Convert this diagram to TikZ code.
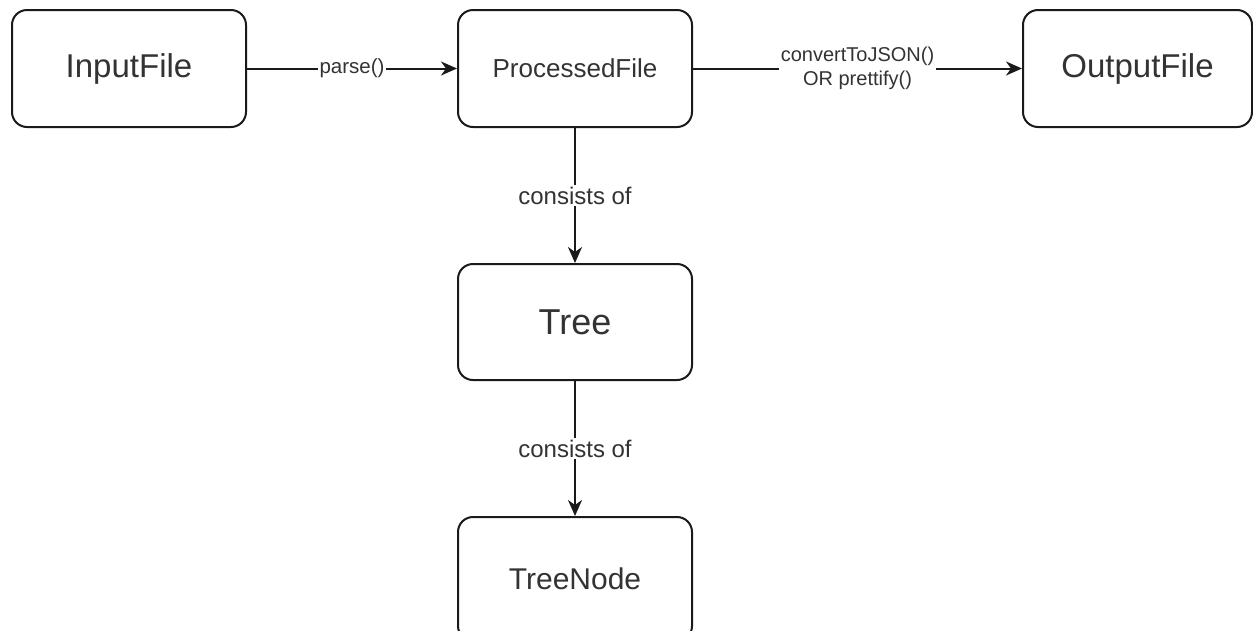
\documentclass[tikz,border=0pt]{standalone}
\usepackage{fontspec}
\setmainfont{Liberation Sans}
\usetikzlibrary{arrows.meta}
\definecolor{txt}{HTML}{333333}
\definecolor{ln}{HTML}{1A1A1A}
\begin{document}
\begin{tikzpicture}[x=1pt,y=1pt,
  box/.style={draw=ln, line width=2pt, rounded corners=15pt, fill=white,
    minimum width=234pt, minimum height=117pt, inner sep=0pt, text=txt},
  conn/.style={draw=ln, line width=2pt, -{Stealth[length=16pt,width=14pt,inset=5pt]}},
  lbl/.style={fill=white, text=txt, inner sep=2pt, align=center}
]
\useasboundingbox (0,0) rectangle (1253,-630);
\node[box, font=\fontsize{33}{40}\selectfont] (in) at (129,-68.5) {InputFile};
\node[box, font=\fontsize{26}{31}\selectfont] (pf) at (575,-68.5) {ProcessedFile};
\node[box, minimum width=229pt, font=\fontsize{33}{40}\selectfont] (out) at (1137.5,-68.5) {OutputFile};
\node[box, minimum height=116pt, font=\fontsize{36}{43}\selectfont] (tree) at (575,-322) {Tree};
\node[box, minimum height=124pt, font=\fontsize{30}{36}\selectfont] (tn) at (575,-579) {TreeNode};

\draw[conn] (in) -- node[lbl, font=\fontsize{20.5}{24}\selectfont] {parse()} (pf);
\draw[conn] (pf) -- node[lbl, font=\fontsize{20}{23.5}\selectfont] {convertToJSON()\\OR prettify()} (out);
\draw[conn] (pf) -- node[lbl, font=\fontsize{24}{29}\selectfont] {consists of} (tree);
\draw[conn] (tree) -- node[lbl, font=\fontsize{24}{29}\selectfont] {consists of} (tn);
\end{tikzpicture}
\end{document}
